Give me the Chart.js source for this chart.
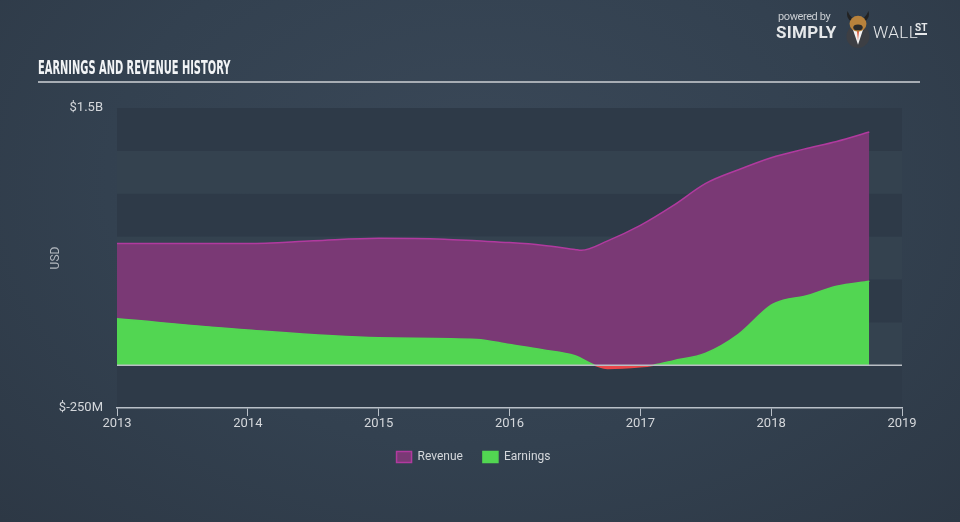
<!DOCTYPE html>
<html>
<head>
<meta charset="utf-8">
<script src="https://cdn.jsdelivr.net/npm/chart.js@4.4.0/dist/chart.umd.min.js"></script>
<style>
  html, body { margin: 0; padding: 0; }
  body {
    width: 960px; height: 522px; overflow: hidden; position: relative;
    background: radial-gradient(ellipse at 50% 35%, #3a4858 0%, #334150 55%, #2d3845 100%);
    font-family: Roboto, "Noto Sans", sans-serif;
  }
  #wrap { position: absolute; left: 0; top: 0; width: 960px; height: 522px; }
  .title {
    position: absolute; left: 38px; top: 55px; white-space: nowrap;
    font-family: "DejaVu Sans Condensed", "Liberation Sans Narrow", sans-serif;
    font-weight: bold; font-size: 20px; color: #f2f4f6;
    transform: scaleX(0.55); transform-origin: left top;
  }
  .rule { position: absolute; left: 38px; top: 81px; width: 882px; height: 2px; background: #a7adb4; }
  .logo { position: absolute; left: 776px; top: 8px; color: #e6e8ea; white-space: nowrap; }
  .logo div { white-space: nowrap; }
  .logo .pb { position: absolute; left: 2px; top: 2px; font-size: 11px; color: #c9cdd2; letter-spacing: -0.4px; }
  .logo .s { position: absolute; left: 0; top: 14px; font-size: 17px; font-weight: bold; letter-spacing: 0.3px; }
  .logo .w { position: absolute; left: 97px; top: 14px; font-size: 17px; font-weight: 300; letter-spacing: 0.4px; }
  .logo .st { position: absolute; left: 139px; top: 14px; font-size: 10px; font-weight: bold; border-bottom: 2px solid #e6e8ea; line-height: 11px; }
  .bull { position: absolute; left: 66px; top: 1px; width: 32px; height: 40px; }
</style>
</head>
<body>
<div id="wrap"><canvas id="historyChart" width="960" height="522"></canvas></div>
<div class="title">EARNINGS AND REVENUE HISTORY</div>
<div class="rule"></div>
<div class="logo">
  <div class="pb">powered by</div>
  <div class="s">SIMPLY</div>
  <svg class="bull" viewBox="0 0 30 38">
    <path d="M5 2 Q3 9 9 12 L10 9 Q7 7 5 2Z M25 2 Q27 9 21 12 L20 9 Q23 7 25 2Z" fill="#222"/>
    <circle cx="15" cy="26" r="11" fill="#3d3f44"/>
    <path d="M10 19 L15 34 L20 19Z" fill="#f2f2f2"/>
    <path d="M14.1 21 L15 30 L15.9 21Z" fill="#d9482b"/>
    <ellipse cx="15" cy="14" rx="8" ry="7.5" fill="#b8823c"/>
    <ellipse cx="15" cy="17.5" rx="4.5" ry="2.8" fill="#2b2b2b"/>
  </svg>
  <div class="w">WALL</div>
  <div class="st">ST</div>
</div>
<script>
(function () {
  'use strict';

  // decimal years
  var revenueDates = [2013.0, 2014.0, 2014.5, 2015.0, 2015.5, 2015.75, 2016.0, 2016.25, 2016.5, 2016.55, 2016.75, 2017.0, 2017.25, 2017.5, 2017.75, 2018.0, 2018.25, 2018.5, 2018.75];
  var revenue = [0.71, 0.71, 0.725, 0.74, 0.735, 0.725, 0.715, 0.70, 0.675, 0.67, 0.725, 0.815, 0.93, 1.06, 1.14, 1.21, 1.26, 1.305, 1.36];

  var earningsDates = [2013.0, 2014.0, 2015.0, 2015.75, 2016.0, 2016.25, 2016.5, 2016.65, 2016.75, 2017.0, 2017.1, 2017.25, 2017.5, 2017.75, 2018.0, 2018.1, 2018.25, 2018.5, 2018.75];
  var earnings = [0.27, 0.205, 0.16, 0.15, 0.12, 0.09, 0.055, 0.0, -0.02, -0.01, 0.0, 0.025, 0.07, 0.18, 0.35, 0.38, 0.40, 0.46, 0.49];

  var yearTicks = [2013, 2014, 2015, 2016, 2017, 2018, 2019];
  var yLabelTicks = [-0.25, 1.5];
  var bandStep = 0.25;

  function toPoints(xs, ys) {
    return xs.map(function (x, i) { return { x: x, y: ys[i] }; });
  }

  var bandsPlugin = {
    id: 'bands',
    beforeDraw: function (chart) {
      var ctx = chart.ctx, a = chart.chartArea, y = chart.scales.y;
      var i = 0;
      ctx.save();
      for (var v = y.min; v < y.max - 1e-9; v += bandStep, i++) {
        var top = y.getPixelForValue(v + bandStep), bot = y.getPixelForValue(v);
        ctx.fillStyle = (i % 2 === 0) ? '#2e3a48' : '#34424f';
        ctx.fillRect(a.left, top, a.right - a.left, bot - top);
      }
      ctx.restore();
    },
    afterDatasetsDraw: function (chart) {
      var ctx = chart.ctx, a = chart.chartArea;
      var zy = chart.scales.y.getPixelForValue(0);
      ctx.save();
      ctx.strokeStyle = '#b9bec4';
      ctx.lineWidth = 1.5;
      ctx.beginPath();
      ctx.moveTo(a.left, zy);
      ctx.lineTo(a.right, zy);
      ctx.stroke();
      ctx.restore();
    }
  };

  var red = '#e8474a';
  var green = '#52d652';

  var ctx = document.getElementById('historyChart').getContext('2d');
  new Chart(ctx, {
    type: 'line',
    data: {
      datasets: [{
        label: 'Earnings',
        data: toPoints(earningsDates, earnings),
        borderColor: green,
        backgroundColor: green,
        borderWidth: 1.5,
        pointRadius: 0,
        cubicInterpolationMode: 'monotone',
        fill: { target: 'origin', above: green, below: red },
        segment: {
          borderColor: function (c) { return (c.p0.parsed.y < 0 || c.p1.parsed.y < 0) ? red : green; }
        }
      }, {
        label: 'Revenue',
        data: toPoints(revenueDates, revenue),
        borderColor: '#b13a9f',
        backgroundColor: '#7a3975',
        borderWidth: 1.5,
        pointRadius: 0,
        cubicInterpolationMode: 'monotone',
        fill: 'origin'
      }]
    },
    options: {
      responsive: false,
      animation: false,
      layout: { padding: { left: 45, top: 108, right: 58, bottom: 49 } },
      plugins: {
        tooltip: { enabled: false },
        legend: {
          position: 'bottom',
          reverse: true,
          labels: {
            boxWidth: 15, boxHeight: 11, padding: 20,
            color: '#d4d7db', font: { size: 12, family: 'Roboto' }
          }
        }
      },
      scales: {
        x: {
          type: 'linear', min: 2013, max: 2019,
          afterBuildTicks: function (s) { s.ticks = yearTicks.map(function (v) { return { value: v }; }); },
          afterFit: function (s) { s.height = 23; },
          ticks: { color: '#d4d7db', font: { size: 13, family: 'Roboto' }, padding: 0, maxRotation: 0,
            callback: function (v) { return String(v); } },
          grid: { drawOnChartArea: false, color: '#b9c0c8', tickLength: 8 },
          border: { color: '#b9c0c8', width: 1.5 }
        },
        y: {
          min: -0.25, max: 1.5,
          afterBuildTicks: function (s) { s.ticks = yLabelTicks.map(function (v) { return { value: v }; }); },
          afterFit: function (s) { s.width = 72; },
          ticks: { color: '#d4d7db', font: { size: 13, family: 'Roboto' }, padding: 6,
            callback: function (v) { return v >= 1 ? '$' + v + 'B' : '$' + Math.round(v * 1000) + 'M'; } },
          grid: { display: false },
          border: { display: false },
          title: { display: true, text: 'USD', color: '#b4b9bf', font: { size: 12, family: 'Roboto' } }
        }
      }
    },
    plugins: [bandsPlugin]
  });
})();
</script>
</body>
</html>
